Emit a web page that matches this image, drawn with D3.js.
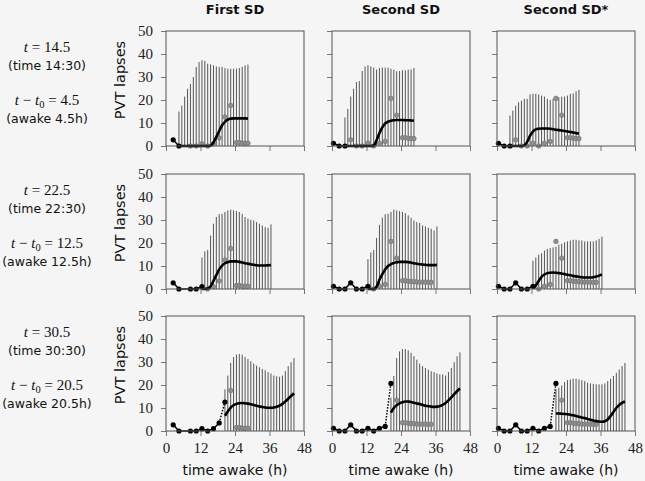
<!DOCTYPE html>
<html><head><meta charset="utf-8">
<script src="https://cdn.jsdelivr.net/npm/d3@7"></script>
<style>html,body{margin:0;padding:0;background:#f5f5f5;} svg{display:block;}</style>
</head><body><svg id="c" width="645" height="481"></svg>
<script>
// ---------- data ----------
const columns = ["First SD", "Second SD", "Second SD*"];
const rowClock = ["14.5", "22.5", "30.5"];
const rowClockText = ["14:30", "22:30", "30:30"];
const rowAwake = [4.5, 12.5, 20.5];
const xTicks = [0, 12, 24, 36, 48];
const yTicks = [0, 10, 20, 30, 40, 50];

// observed PVT lapses
const firstTimes  = [2.5, 4.5, 8.5, 10.5, 12.5, 14.5, 16.5, 18.5, 20.5, 22.5, 24.5, 25.5, 26.5, 27.5, 28.5];
const firstLapses = [2.7, 0, 0, 0, 1, 0, 1, 3.5, 12.6, 17.6, 1.5, 1.5, 1.2, 1.2, 1.2];
const secondTimes  = [0.5, 2.5, 4.5, 6.5, 8.5, 10.5, 12.5, 14.5, 16.5, 18.5, 20.5, 22.5, 24.5, 25.5, 26.5, 27.5, 28.5, 29.5, 30.5, 31.5, 32.5, 33.5, 34.5];
const secondLapses = [1.2, 0, 0, 2.7, 0, 0, 1.2, 0, 1.2, 2, 20.7, 13.4, 3.6, 3.6, 3.4, 3.2, 3.2, 3, 3, 3, 3, 2.9, 2.9];

// predictions: hourly from t0 to t0+24 (upper bound of interval, mean)
const upperR1C1 = [15.0,17.5,21.5,24.9,27.0,30.0,34.4,36.5,37.3,37.0,35.8,35.5,35.1,34.6,34.4,34.4,33.9,33.6,33.6,33.6,33.6,33.9,34.4,35.1,35.4];
const meanR1C1  = [0,0,0,0,0,0,0,0,0,0,0,0.1,1.5,4,6.5,9,10.5,11.5,11.9,12,12,12,12,12,11.9];
const upperR2C1 = [13.7,16.4,17.0,23.2,28.4,31.3,32.5,32.7,33.5,34.2,34.5,34.2,33.9,33.5,32.7,31.3,30.6,30.1,29.8,29.1,28.4,27.6,26.9,26.6,28.1];
const meanR2C1  = [0,0,0.2,1.2,3.5,6,8.5,10.2,11.2,11.7,12,12,12,11.8,11.5,11.2,11,10.8,10.5,10.3,10.2,10.2,10.2,10.3,10.4];
const upperR3C1 = [18.1,24.1,29.6,32.2,33.2,33.5,33.2,32.2,31.3,30.3,29.3,28.4,27.7,27.0,26.4,25.6,25.0,24.1,23.8,23.6,24.1,26.0,28.2,29.9,31.7];
const meanR3C1  = [6.6,8.5,10.2,11.2,11.8,12.1,12.2,12.1,11.9,11.6,11.3,11.0,10.7,10.4,10.2,10.1,10.1,10.2,10.5,11.0,11.8,12.8,14.0,15.2,16.4];

const upperR1C2 = [12.4,16.1,21.5,24.9,27.8,28.2,32.6,34.6,35.1,34.6,34.1,33.2,33.9,34.1,34.1,34.1,33.6,33.2,32.5,32.6,32.9,32.9,33.2,33.3,33.9];
const meanR1C2  = [0,0,0,0,0,0,0,0,0,0,0.2,2.5,5.6,8.1,9.8,10.6,11,11.2,11.3,11.3,11.3,11.2,11.2,11.1,11];
const upperR2C2 = [13.0,15.9,17.0,22.2,27.9,31.0,32.5,32.7,33.5,34.5,34.2,33.9,33.5,33.0,32.0,31.0,29.8,29.1,28.7,27.6,27.2,26.6,26.2,25.4,27.2];
const meanR2C2  = [0,0,0,1,4,6.5,8.5,10,10.8,11.3,11.6,11.8,11.8,11.8,11.7,11.5,11.2,11,10.8,10.6,10.5,10.4,10.4,10.4,10.5];
const upperR3C2 = [14.5,23.9,31.7,34.6,35.6,35.6,35.1,33.9,32.5,31.0,29.3,28.2,27.4,26.7,26.0,25.6,25.0,24.6,24.6,24.1,25.6,27.4,29.9,32.5,34.2];
const meanR3C2  = [8.0,10.0,11.2,12.0,12.5,12.8,12.8,12.6,12.3,12.0,11.7,11.3,11.0,10.8,10.6,10.5,10.6,10.9,11.4,12.2,13.3,14.6,16.0,17.3,18.5];

const upperR1C3 = [13.2,15.4,17.5,19.0,19.7,20.5,20.5,22.4,22.7,22.7,22.4,21.9,21.5,20.5,20.0,20.5,20.9,21.2,21.5,21.5,21.9,22.7,22.9,23.8,24.4];
const meanR1C3  = [0,0,0,0,0,0.3,1.8,4.5,6.3,7.2,7.5,7.6,7.6,7.6,7.5,7.3,7.1,6.9,6.7,6.5,6.3,6.1,5.9,5.6,5.4];
const upperR2C3 = [12.3,13.7,14.9,15.5,16.7,17.4,17.8,18.1,18.4,19.3,19.6,20.3,20.7,21.1,21.4,21.4,21.1,21.1,20.7,20.7,20.7,20.7,21.1,21.8,22.8];
const meanR2C3  = [0.3,1.5,3.5,5.3,6.3,6.9,7.1,7.2,7.1,6.9,6.7,6.5,6.2,6.0,5.7,5.5,5.3,5.1,5.0,5.0,5.0,5.1,5.4,5.8,6.4];
const upperR3C3 = [18.1,18.8,19.8,21.3,22.1,22.4,22.7,22.7,22.4,22.1,21.7,21.0,20.7,20.5,20.3,20.3,20.3,20.7,21.7,22.7,23.9,25.3,26.7,28.2,29.6];
const meanR3C3  = [7.6,7.6,7.5,7.4,7.3,7.1,6.8,6.5,6.2,5.9,5.6,5.2,4.9,4.6,4.3,4.1,4.0,4.2,5.0,6.5,8.3,10.0,11.3,12.2,12.8];

const dottedLast = [false, false, true];

// ---------- assembly ----------
const upper = [[upperR1C1, upperR1C2, upperR1C3],[upperR2C1, upperR2C2, upperR2C3],[upperR3C1, upperR3C2, upperR3C3]];
const mean  = [[meanR1C1, meanR1C2, meanR1C3],[meanR2C1, meanR2C2, meanR2C3],[meanR3C1, meanR3C2, meanR3C3]];
const obsTimes = [firstTimes, secondTimes, secondTimes];
const obsVals  = [firstLapses, secondLapses, secondLapses];

const svg = d3.select("#c");
const BG = "#f5f5f5";
svg.append("rect").attr("width", 645).attr("height", 481).attr("fill", BG);

const colLeft = [166, 332, 497], panelW = 138;
const rowTop = [31, 174, 316], panelH = 115;
const SANS = "'DejaVu Sans', sans-serif";
const SERIF = "'Liberation Serif', 'DejaVu Serif', serif";

columns.forEach((name, c) => {
  svg.append("text").attr("x", colLeft[c] + panelW / 2).attr("y", 14)
    .attr("text-anchor", "middle").attr("font-family", SANS).attr("font-weight", "bold")
    .attr("font-size", 13).attr("fill", "#111").text(name);
});

for (let r = 0; r < 3; r++) {
  const top = rowTop[r];
  // left labels
  const cx = 47;
  const t1 = svg.append("text").attr("x", cx).attr("y", top + 21).attr("text-anchor", "middle")
    .attr("font-family", SERIF).attr("font-size", 15).attr("fill", "#111");
  t1.append("tspan").attr("font-style", "italic").text("t");
  t1.append("tspan").text(" = " + rowClock[r]);
  svg.append("text").attr("x", cx).attr("y", top + 38.5).attr("text-anchor", "middle")
    .attr("font-family", SANS).attr("font-size", 12.5).attr("fill", "#111")
    .text("(time " + rowClockText[r] + ")");
  const t2 = svg.append("text").attr("x", cx).attr("y", top + 74).attr("text-anchor", "middle")
    .attr("font-family", SERIF).attr("font-size", 15).attr("fill", "#111");
  t2.append("tspan").attr("font-style", "italic").text("t");
  t2.append("tspan").text(" \u2212 ");
  t2.append("tspan").attr("font-style", "italic").text("t");
  t2.append("tspan").attr("font-size", 10.5).attr("dy", 3).text("0");
  t2.append("tspan").attr("dy", -3).text(" = " + rowAwake[r]);
  svg.append("text").attr("x", cx).attr("y", top + 91.5).attr("text-anchor", "middle")
    .attr("font-family", SANS).attr("font-size", 12.5).attr("fill", "#111")
    .text("(awake " + rowAwake[r] + "h)");

  // y title
  svg.append("text").attr("transform", `translate(125,${top + 49}) rotate(-90)`)
    .attr("text-anchor", "middle").attr("font-family", SANS).attr("font-size", 14.5)
    .attr("fill", "#111").text("PVT lapses");

  for (let c = 0; c < 3; c++) {
    const left = colLeft[c];
    const x = d3.scaleLinear().domain([0, 48]).range([left, left + panelW]);
    const y = d3.scaleLinear().domain([0, 50]).range([top + panelH, top]);
    const g = svg.append("g");

    const ya = g.append("g").attr("transform", `translate(${left},0)`)
      .call(d3.axisLeft(y).tickValues(yTicks).tickSize(5).tickSizeOuter(0).tickPadding(8)
        .tickFormat(c === 0 ? d3.format("d") : () => ""));
    const xa = g.append("g").attr("transform", `translate(0,${top + panelH})`)
      .call(d3.axisBottom(x).tickValues(xTicks).tickSize(5).tickSizeOuter(0).tickPadding(6)
        .tickFormat(r === 2 ? d3.format("d") : () => ""));
    [ya, xa].forEach(a => {
      a.select(".domain").remove();
      a.selectAll("line").attr("stroke", "#777");
      a.selectAll("text").attr("font-family", SERIF).attr("font-size", 15).attr("fill", "#222");
    });

    // prediction intervals
    const t0 = rowAwake[r];
    const hours = d3.range(25).map(i => t0 + i);
    const up = upper[r][c], mu = mean[r][c];
    g.append("g").selectAll("line").data(hours).join("line")
      .attr("x1", d => x(d)).attr("x2", d => x(d))
      .attr("y1", y(0)).attr("y2", (d, i) => y(up[i]))
      .attr("stroke", "#555").attr("stroke-width", 1);

    // later observed data (grey)
    const ot = obsTimes[c], ov = obsVals[c];
    const obs = ot.map((t, i) => ({ t, v: ov[i] }));
    const later = obs.filter(d => d.t > t0 && d.t <= t0 + 24.01);
    g.append("g").selectAll("circle").data(later).join("circle")
      .attr("cx", d => x(d.t)).attr("cy", d => y(d.v)).attr("r", 2.3)
      .attr("fill", "#8f8f8f").attr("stroke", "#6f6f6f").attr("stroke-width", 0.6);

    // mean prediction
    g.append("path").datum(hours)
      .attr("d", d3.line().x(d => x(d)).y((d, i) => y(mu[i])).curve(d3.curveMonotoneX))
      .attr("fill", "none").attr("stroke", "#000").attr("stroke-width", 2.6);

    // observed before t0 (black)
    const past = obs.filter(d => d.t <= t0 + 0.01);
    const lineGen = d3.line().x(d => x(d.t)).y(d => y(d.v));
    if (dottedLast[r] && past.length > 1) {
      g.append("path").datum(past.slice(0, -1)).attr("d", lineGen)
        .attr("fill", "none").attr("stroke", "#000").attr("stroke-width", 1.5);
      g.append("path").datum(past.slice(-2)).attr("d", lineGen)
        .attr("fill", "none").attr("stroke", "#000").attr("stroke-width", 1.5)
        .attr("stroke-dasharray", "1.5,1.5");
    } else {
      g.append("path").datum(past).attr("d", lineGen)
        .attr("fill", "none").attr("stroke", "#000").attr("stroke-width", 1.5);
    }
    g.append("g").selectAll("circle").data(past).join("circle")
      .attr("cx", d => x(d.t)).attr("cy", d => y(d.v)).attr("r", 2.6).attr("fill", "#000");

    // frame
    g.append("rect").attr("x", left).attr("y", top).attr("width", panelW).attr("height", panelH)
      .attr("fill", "none").attr("stroke", "#555").attr("stroke-width", 1);

    if (r === 2) {
      svg.append("text").attr("x", left + panelW / 2).attr("y", 475).attr("text-anchor", "middle")
        .attr("font-family", SANS).attr("font-size", 14).attr("fill", "#111").text("time awake (h)");
    }
  }
}
</script></body></html>
